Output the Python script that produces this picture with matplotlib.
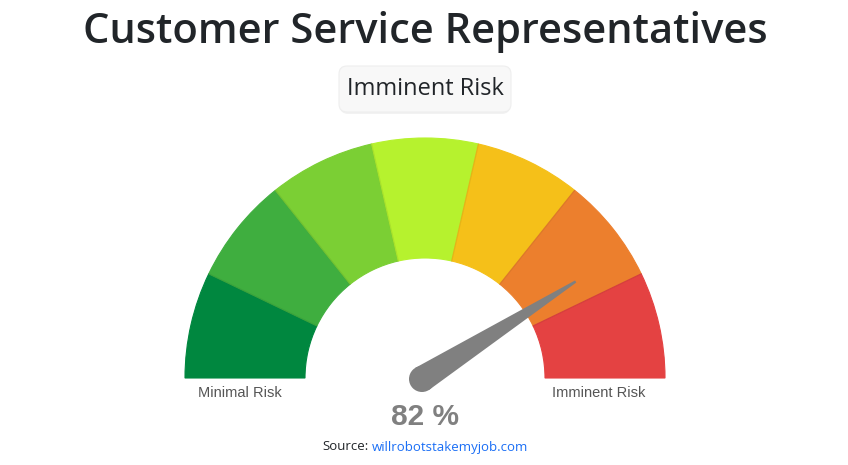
import numpy as np
import matplotlib.pyplot as plt
from matplotlib.patches import Wedge, Circle, Polygon, FancyBboxPatch

title = "Customer Service Representatives"
risk_label = "Imminent Risk"
value = 82  # percent
band_colors = ["#00873f", "#3fae3f", "#7bcf34", "#b6f22e", "#f5c019", "#ec7f2d", "#e44242"]
left_label = "Minimal Risk"
right_label = "Imminent Risk"
source_prefix = "Source:"
source_link = "willrobotstakemyjob.com"

W, H = 848, 465
fig = plt.figure(figsize=(W / 100, H / 100), dpi=100)
ax = fig.add_axes([0, 0, 1, 1])
ax.set_xlim(0, W)
ax.set_ylim(0, H)
ax.set_aspect("equal")
ax.axis("off")

font = "Open Sans"

# gauge geometry (pixel units, y up)
cx, cy = 425, H - 378
r_out, r_in = 240, 120
n = len(band_colors)
step = 180 / n
for i, col in enumerate(band_colors):
    t2 = 180 - i * step
    t1 = t2 - step
    ax.add_patch(Wedge((cx, cy), r_out, t1, t2, width=r_out - r_in,
                       facecolor=col, edgecolor=col, lw=0.8))
    # faint separator
    a = np.radians(t1)
    if i < n - 1:
        ax.plot([cx + r_in * np.cos(a), cx + r_out * np.cos(a)],
                [cy + r_in * np.sin(a), cy + r_out * np.sin(a)],
                color="black", alpha=0.06, lw=1)

# needle (pivot sits slightly left/below the arc centre, as in the original)
nx, ny = cx - 3, cy - 1
ang = np.radians(180 - value / 100 * 180)
L, hw, tw = 182, 13, 1.2
ux, uy = np.cos(ang), np.sin(ang)
px, py = -uy, ux
ax.add_patch(Polygon([(nx + hw * px, ny + hw * py),
                      (nx + L * ux + tw * px, ny + L * uy + tw * py),
                      (nx + L * ux - tw * px, ny + L * uy - tw * py),
                      (nx - hw * px, ny - hw * py)],
                     closed=True, facecolor="#808080", edgecolor="none", zorder=5))
ax.add_patch(Circle((nx, ny), 13, facecolor="#808080", edgecolor="none", zorder=5))

# title
ax.text(cx, H - 32, title, ha="center", va="center", fontsize=30,
        color="#212529", family=font, weight=600)

# risk badge
shadow = FancyBboxPatch((340, H - 114), 170, 46, boxstyle="round,pad=0,rounding_size=8",
                        facecolor="#000000", alpha=0.05, edgecolor="none")
ax.add_patch(shadow)
ax.add_patch(FancyBboxPatch((339, H - 112), 172, 46, boxstyle="round,pad=0,rounding_size=8",
                            facecolor="#f8f8f8", edgecolor="#eeeeee", lw=0.8))
ax.text(425, H - 89, risk_label, ha="center", va="center", fontsize=17,
        color="#212529", family=font)

# end labels
ax.text(240, H - 393, left_label, ha="center", va="center",
        fontsize=10.5, color="#555555", family="Liberation Sans")
ax.text(599, H - 393, right_label, ha="center", va="center",
        fontsize=10.5, color="#555555", family="Liberation Sans")

# value
ax.text(cx, H - 417, f"{value} %", ha="center", va="center", fontsize=21.5,
        color="#808080", weight="bold", family="Liberation Sans")

# source
ax.text(369, H - 447, source_prefix, ha="right", va="center", fontsize=9.5,
        color="#212529", family=font)
ax.text(372, H - 447, source_link, ha="left", va="center", fontsize=9.5,
        color="#1a6ef5", family=font)

fig.savefig("out.png", dpi=100)
